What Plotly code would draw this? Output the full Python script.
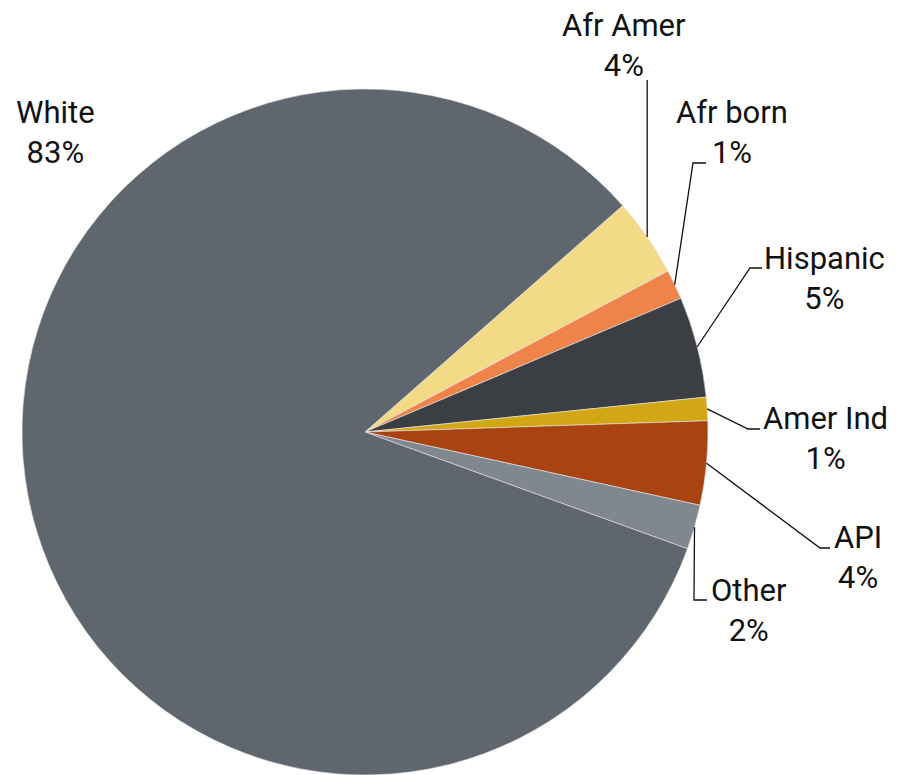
import math
import plotly.graph_objects as go

# ---- data ----
labels = ["Afr Amer", "Afr born", "Hispanic", "Amer Ind", "API", "Other", "White"]
values = [3.7, 1.4, 4.75, 1.1, 3.95, 2.1, 83.0]
pct_text = ["4%", "1%", "5%", "1%", "4%", "2%", "83%"]
colors = ["#F3DA87", "#EE8449", "#3B3E43", "#D1A716", "#A94412", "#80878E", "#60666E"]

# ---- layout constants (pixels) ----
W, H = 899, 775
ML, MR, MT, MB = 22, 191, 89, 0
ROT = 48.7
# label centres (px)
label_pos = {
    "Afr Amer": (624, 45), "Afr born": (732, 132), "Hispanic": (824, 278),
    "Amer Ind": (825, 438), "API": (858, 557), "Other": (749, 610), "White": (55, 132),
}
# leader line: elbow and end points near label (px)
leaders = {
    "Afr Amer": [(648, 80)],
    "Afr born": [(693, 163), (706, 163)],
    "Hispanic": [(750, 268), (762, 268)],
    "Amer Ind": [(748, 429), (760, 429)],
    "API": [(820, 548), (830, 548)],
    "Other": [(694, 600), (707, 600)],
}

pw = W - ML - MR
ph = H - MT - MB
cx, cy = ML + pw / 2, MT + ph / 2
R = min(pw, ph) / 2


def to_paper(px, py):
    return (px - ML) / pw, (H - MB - py) / ph


fig = go.Figure(go.Pie(
    labels=labels, values=values, sort=False, direction="clockwise",
    rotation=ROT, textinfo="none", hoverinfo="label+percent",
    marker=dict(colors=colors, line=dict(color="#E8E8E8", width=0.6)),
    showlegend=False, domain=dict(x=[0, 1], y=[0, 1]),
))

font = dict(family="Roboto, Liberation Sans, sans-serif", size=31, color="#111111")

total = sum(values)
cum = 0.0
shapes = []
annotations = []
for lab, v, t in zip(labels, values, pct_text):
    mid = ROT + (cum + v / 2) / total * 360.0
    cum += v
    a = math.radians(mid)
    tip = (cx + R * math.sin(a), cy - R * math.cos(a))
    if lab in leaders:
        if lab == "Afr Amer":
            pts = [tip, (tip[0], leaders[lab][0][1])]
        else:
            pts = [tip] + leaders[lab]
        pp = [to_paper(*p) for p in pts]
        path = "M " + " L ".join(f"{x:.5f},{y:.5f}" for x, y in pp)
        shapes.append(dict(type="path", xref="paper", yref="paper", path=path,
                           line=dict(color="#111111", width=1.3)))
    lx, ly = to_paper(*label_pos[lab])
    annotations.append(dict(x=lx, y=ly, xref="paper", yref="paper", showarrow=False,
                            text=f"{lab}<br>{t}", font=font, xanchor="center",
                            yanchor="middle", align="center"))

fig.update_layout(
    width=W, height=H, margin=dict(l=ML, r=MR, t=MT, b=MB),
    paper_bgcolor="white", plot_bgcolor="white",
    shapes=shapes, annotations=annotations,
)
fig.write_html("out.html", config={"displayModeBar": False},
               post_script="document.body.style.margin='0px';document.body.style.overflow='hidden';")
